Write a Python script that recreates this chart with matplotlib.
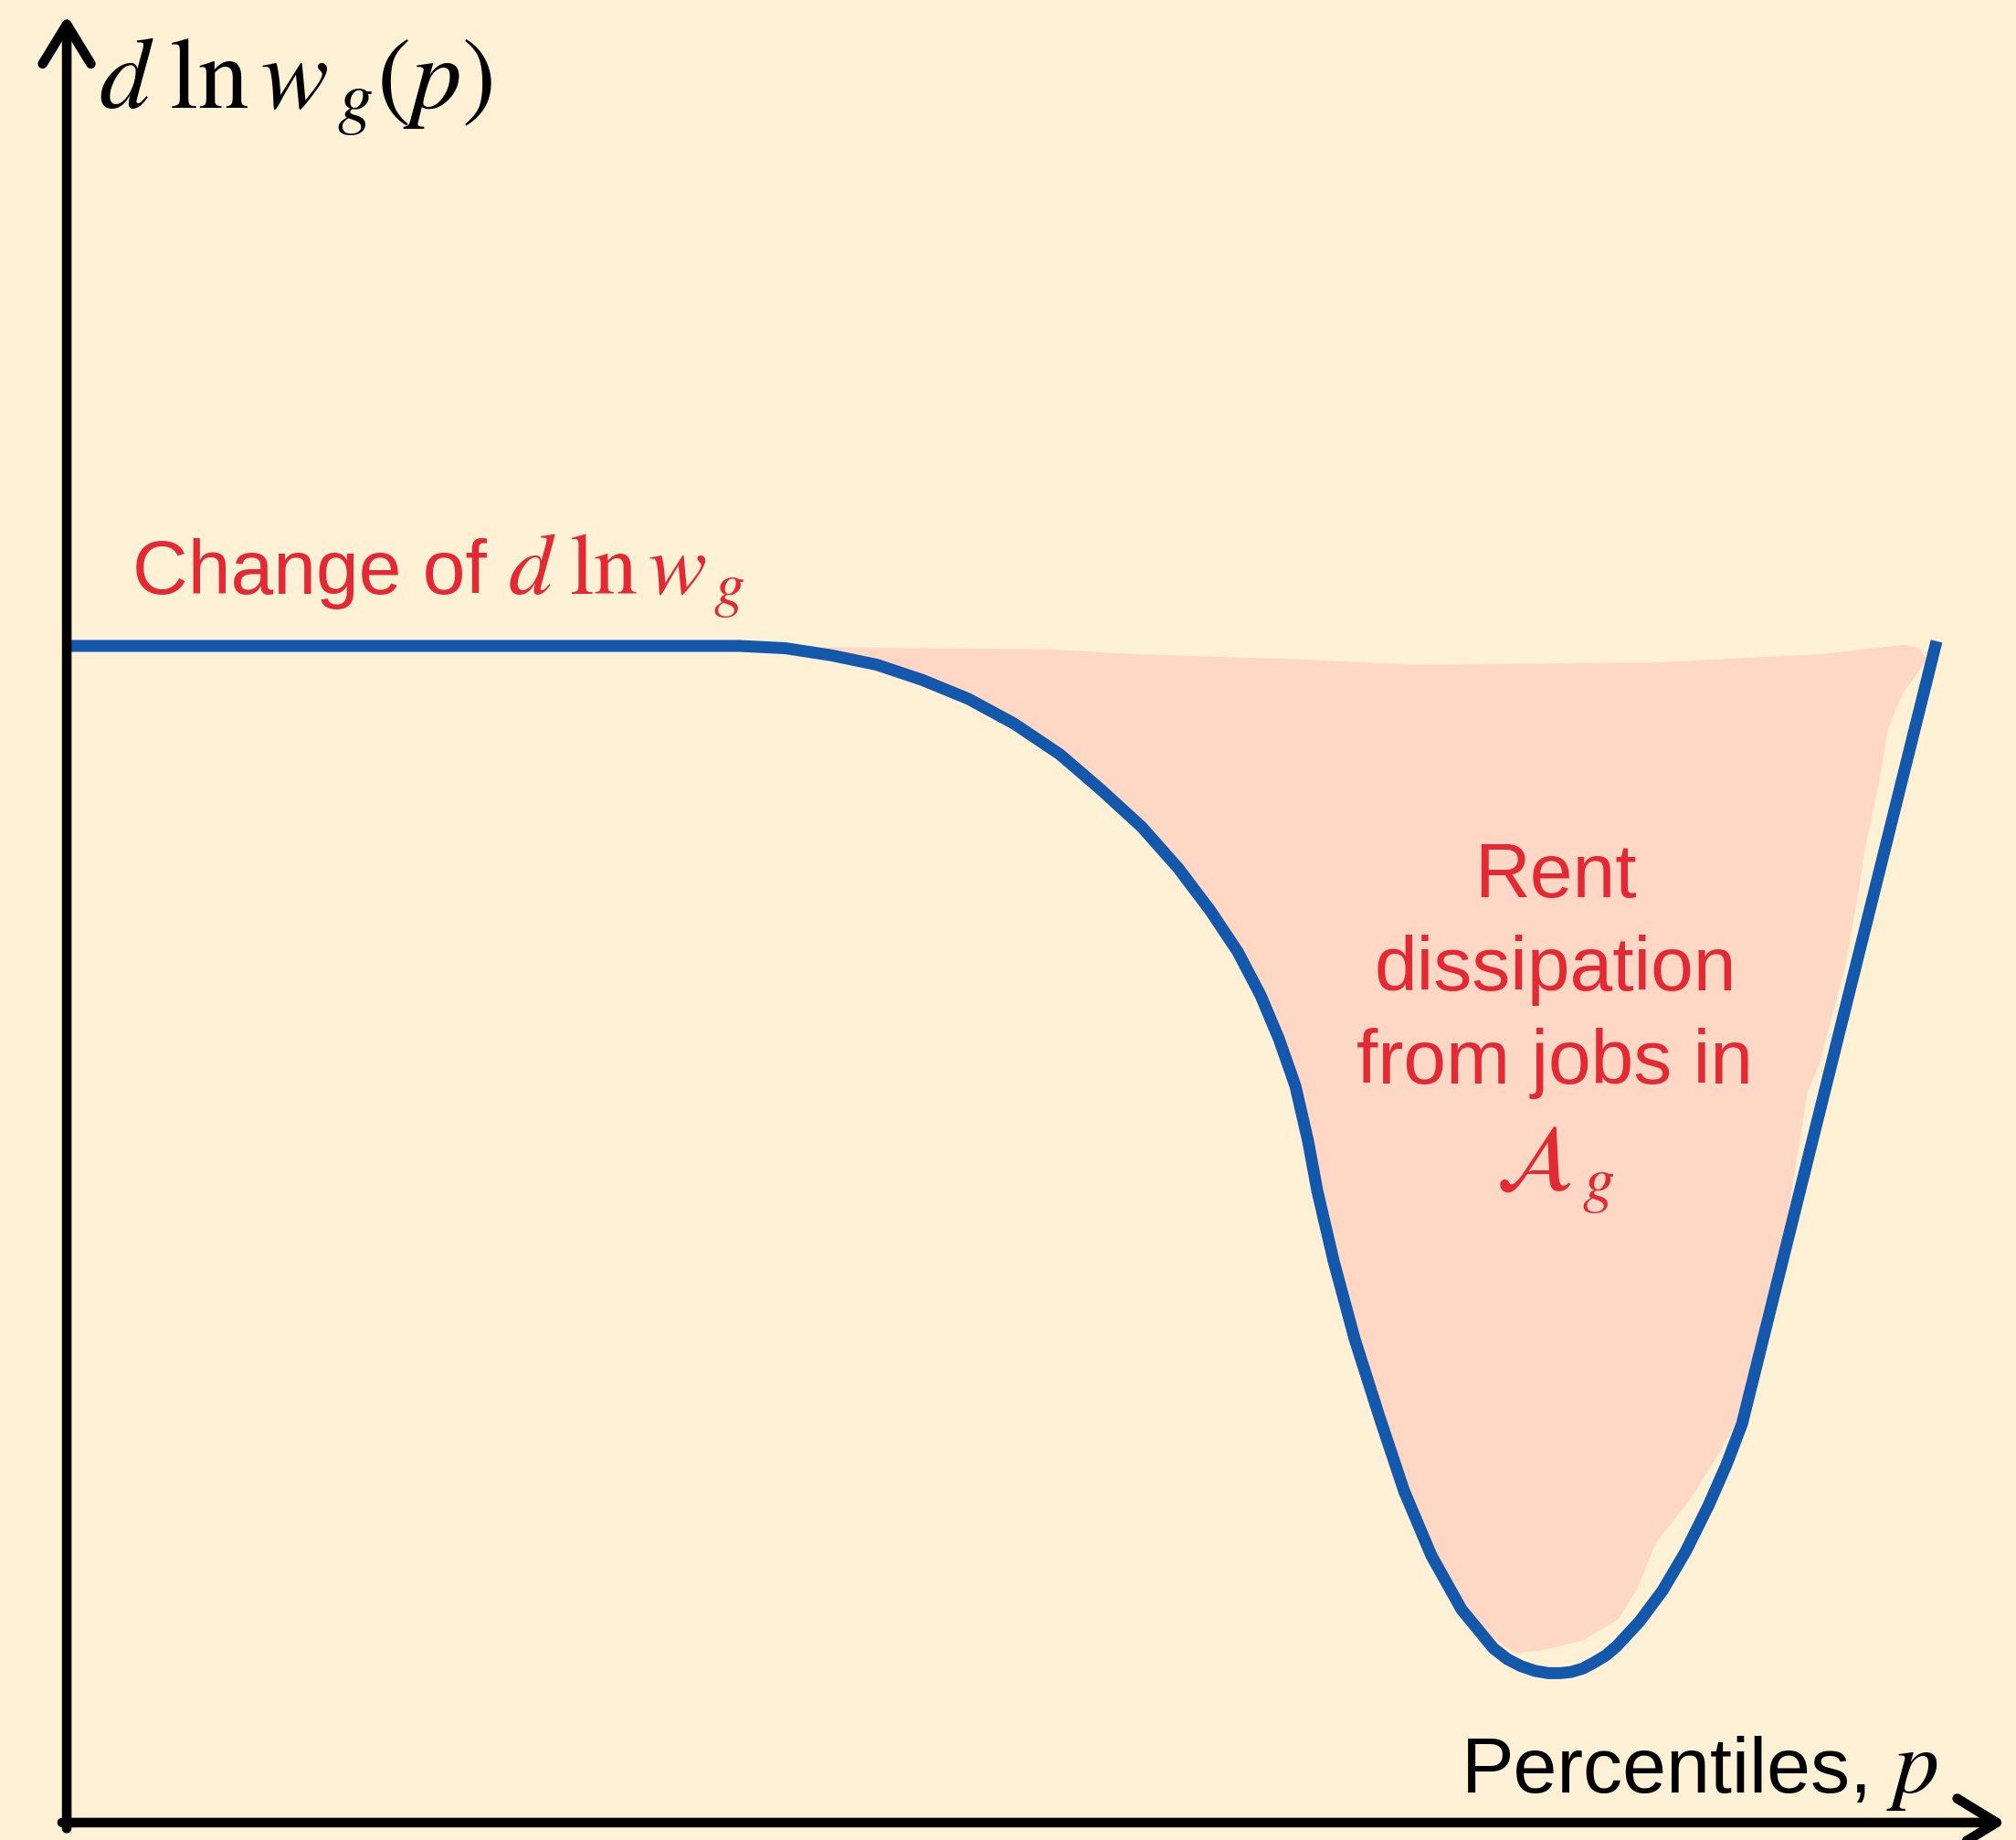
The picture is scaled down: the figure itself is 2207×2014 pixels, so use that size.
import matplotlib.pyplot as plt
from matplotlib.patches import FancyArrowPatch

# blue curve: d ln w_g(p) against percentile p (flat level = 1)
curve_p = [0.0, 35.96, 38.45, 40.89, 43.33, 45.77, 48.22, 50.66, 53.10,
           55.30, 57.50, 59.45, 61.16, 62.63, 63.85, 64.83, 65.71, 66.39,
           66.88, 67.76, 68.88, 70.20, 71.52, 72.98, 74.60, 76.31, 77.04,
           77.77, 78.51, 79.24, 79.87, 80.46, 81.09, 81.68, 82.31, 82.90,
           84.12, 85.34, 86.57, 87.79, 88.76, 89.60, 100.0]
curve_y = [1.000, 1.000, 0.998, 0.992, 0.984, 0.971, 0.955, 0.934, 0.908,
           0.878, 0.846, 0.811, 0.775, 0.740, 0.703, 0.666, 0.626, 0.579,
           0.537, 0.477, 0.411, 0.345, 0.282, 0.227, 0.181, 0.148, 0.139,
           0.133, 0.129, 0.127, 0.127, 0.128, 0.131, 0.136, 0.142, 0.150,
           0.171, 0.197, 0.230, 0.269, 0.304, 0.339, 1.004]

# shaded "rent dissipation" region (hand drawn outline)
fill_p = [36.0, 39.6, 52.7, 57.1, 65.2, 72.1, 85.1, 93.8, 98.3, 99.1, 99.5,
          98.2, 97.4, 96.9, 96.2, 95.7, 95.1, 93.7, 93.1, 92.0, 90.6, 89.6,
          88.1, 86.8, 85.0, 84.0, 83.0, 81.1, 78.8, 77.4, 76.2, 75.1, 74.7,
          74.0, 72.98, 71.52, 70.20, 68.88, 67.76, 66.88, 66.39, 65.71,
          64.83, 63.85, 62.63, 61.16, 59.45, 57.50, 55.30, 53.10, 50.66,
          48.22, 45.77, 43.33, 40.89, 38.45, 36.0]
fill_y = [1.000, 0.999, 0.997, 0.993, 0.989, 0.984, 0.986, 0.993, 1.001,
          0.998, 0.988, 0.960, 0.929, 0.882, 0.830, 0.779, 0.727, 0.643,
          0.621, 0.512, 0.402, 0.348, 0.307, 0.274, 0.238, 0.199, 0.173,
          0.155, 0.146, 0.144, 0.158, 0.168, 0.189, 0.199, 0.227, 0.282,
          0.345, 0.411, 0.477, 0.537, 0.579, 0.626, 0.666, 0.703, 0.740,
          0.775, 0.811, 0.846, 0.878, 0.908, 0.934, 0.955, 0.971, 0.984,
          0.992, 0.998, 1.000]

rent_lines = ["Rent", "dissipation", "from jobs in", r"$\mathcal{A}_{\,g}$"]

BG = "#FEF1D6"
PINK = "#FED7C5"
BLUE = "#1458AB"
RED = "#E32933"

plt.rcParams["font.family"] = ["Liberation Sans", "DejaVu Sans"]
plt.rcParams["mathtext.fontset"] = "stix"


def draw_axis_arrow(ax, start, end):
    arrow = FancyArrowPatch(start, end, transform=ax.transData,
                            arrowstyle="->,head_length=31,head_width=19",
                            mutation_scale=1, lw=7.6, color="black",
                            shrinkA=0, shrinkB=0, zorder=5)
    ax.add_patch(arrow)


def main():
    fig = plt.figure(figsize=(22.07, 20.15), dpi=100)
    fig.patch.set_facecolor(BG)
    ax = fig.add_axes([0, 0, 1, 1])
    ax.set_facecolor(BG)
    ax.set_xlim(-3.57, 104.25)
    ax.set_ylim(-0.0148, 1.5497)
    ax.axis("off")

    ax.fill(fill_p, fill_y, color=PINK, lw=0, zorder=1)
    ax.plot(curve_p, curve_y, color=BLUE, lw=9.4, solid_capstyle="butt",
            solid_joinstyle="round", zorder=3)

    draw_axis_arrow(ax, (0, -0.005), (0, 1.536))
    draw_axis_arrow(ax, (-0.25, 0), (103.7, 0))

    ax.text(1.7, 1.458, r"$d\;\ln w_{\,g}(p)$", fontsize=80, ha="left",
            va="baseline", color="black")

    ax.text(3.5, 1.045, "Change of", fontsize=60.5, ha="left",
            va="baseline", color=RED)
    ax.text(23.6, 1.045, r"$d\;\ln w_{\,g}$", fontsize=69, ha="left",
            va="baseline", color=RED)

    baselines = [0.787, 0.708, 0.629, 0.539]
    for line, yb in zip(rent_lines, baselines):
        size = 72 if line.startswith("$") else 60.5
        ax.text(79.6, yb, line, fontsize=size, ha="center", va="baseline",
                color=RED)

    ax.text(96.6, 0.026, "Percentiles,", fontsize=62, ha="right",
            va="baseline", color="black")
    ax.text(97.3, 0.026, r"$p$", fontsize=72, ha="left", va="baseline",
            color="black")

    fig.savefig("out.png", dpi=100, facecolor=BG)


if __name__ == "__main__":
    main()
